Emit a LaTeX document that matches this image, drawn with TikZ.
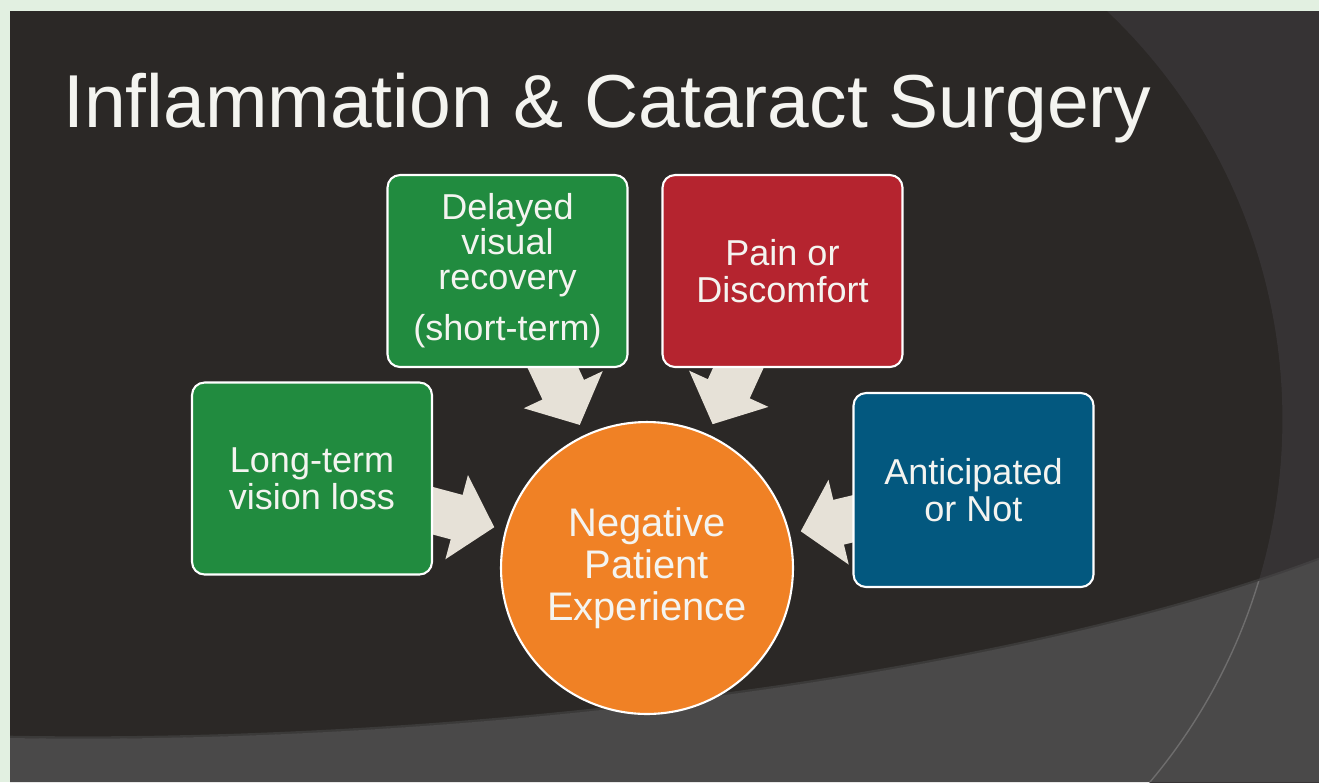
\documentclass[tikz,border=0pt]{standalone}
\usepackage{fontspec}
\setmainfont{Liberation Sans}
\usetikzlibrary{arrows.meta}

\definecolor{frame}{HTML}{E2F0E1}
\definecolor{slate}{HTML}{2B2826}
\definecolor{slatelight}{HTML}{363334}
\definecolor{band}{HTML}{4A4949}
\definecolor{leaf}{HTML}{218B3F}
\definecolor{crimson}{HTML}{B5242F}
\definecolor{ocean}{HTML}{03587F}
\definecolor{hubcol}{HTML}{F08125}
\definecolor{sand}{HTML}{E6E1D7}
\definecolor{chalk}{HTML}{F4F4F0}

\pgfdeclarelayer{backdrop}
\pgfdeclarelayer{links}
\pgfsetlayers{backdrop,links,main}

\tikzset{
  card/.style={draw=white, line width=1.2pt, rounded corners=0.25cm,
    minimum width=4.8cm, minimum height=3.84cm, text=chalk, align=center,
    font=\fontsize{20.5}{21}\selectfont},
  hub/.style={circle, draw=white, fill=hubcol, line width=1.2pt,
    minimum size=5.84cm, inner sep=0pt, text=chalk, align=center,
    font=\fontsize{22.7}{23.8}\selectfont},
  flow/.style={draw=sand, line width=0.92cm,
    -{Triangle[width=1.7cm, length=0.78cm]},
    shorten >=0.22cm, shorten <=-0.4cm}
}

\begin{document}
\begin{tikzpicture}[x=0.02cm, y=-0.02cm]
    \useasboundingbox (0,0) rectangle (1319,782);

    \node[card, fill=leaf] (longterm) at (312,478.5) {Long-term\\vision loss};
    \node[card, fill=leaf, font=\fontsize{20.5}{20}\selectfont] (delayed) at (507.5,271)
        {Delayed\\visual\\recovery\\[9pt](short-term)};
    \node[card, fill=crimson] (pain) at (782.5,271) {Pain or\\Discomfort};
    \node[card, fill=ocean, minimum height=3.88cm] (anticipated) at (973.5,490) {Anticipated\\or Not};
    \node[hub] (negative) at (647,568) {Negative\\Patient\\Experience};

    \node[anchor=base west, text=chalk, font=\fontsize{42.7}{50}\selectfont, inner sep=0pt]
        (title) at (63,127) {Inflammation \& Cataract Surgery};

    \begin{pgfonlayer}{links}
      \draw[flow] (longterm) -- (negative);
      \draw[flow] (delayed) -- (negative);
      \draw[flow] (pain) -- (negative);
      \draw[flow] (anticipated) -- (negative);
    \end{pgfonlayer}

    \begin{pgfonlayer}{backdrop}
      \fill[frame] (0,0) rectangle (1319,782);
      \fill[slate] (10,11) rectangle (1319,782);
      \begin{scope}
        \clip (10,11) rectangle (1319,782);
        \fill[slatelight] (1107,11) arc[start angle=46.5, end angle=-50, radius=11.26cm]
            -- (1330,900) -- (1330,11) -- cycle;
        \fill[band] (10,738) .. controls (450,746) and (1000,680) .. (1319,560)
            -- (1319,782) -- (10,782) -- cycle;
        \draw[black!70, line width=1.5pt, opacity=0.5] (10,737) .. controls (450,745) and (1000,679) .. (1319,559);
        \clip (10,738) .. controls (450,746) and (1000,680) .. (1319,560)
            -- (1319,782) -- (10,782) -- cycle;
        \draw[band!80!white, line width=0.8pt] (1107,11) arc[start angle=46.5, end angle=-50, radius=11.26cm];
      \end{scope}
    \end{pgfonlayer}
  \end{tikzpicture}
\end{document}
